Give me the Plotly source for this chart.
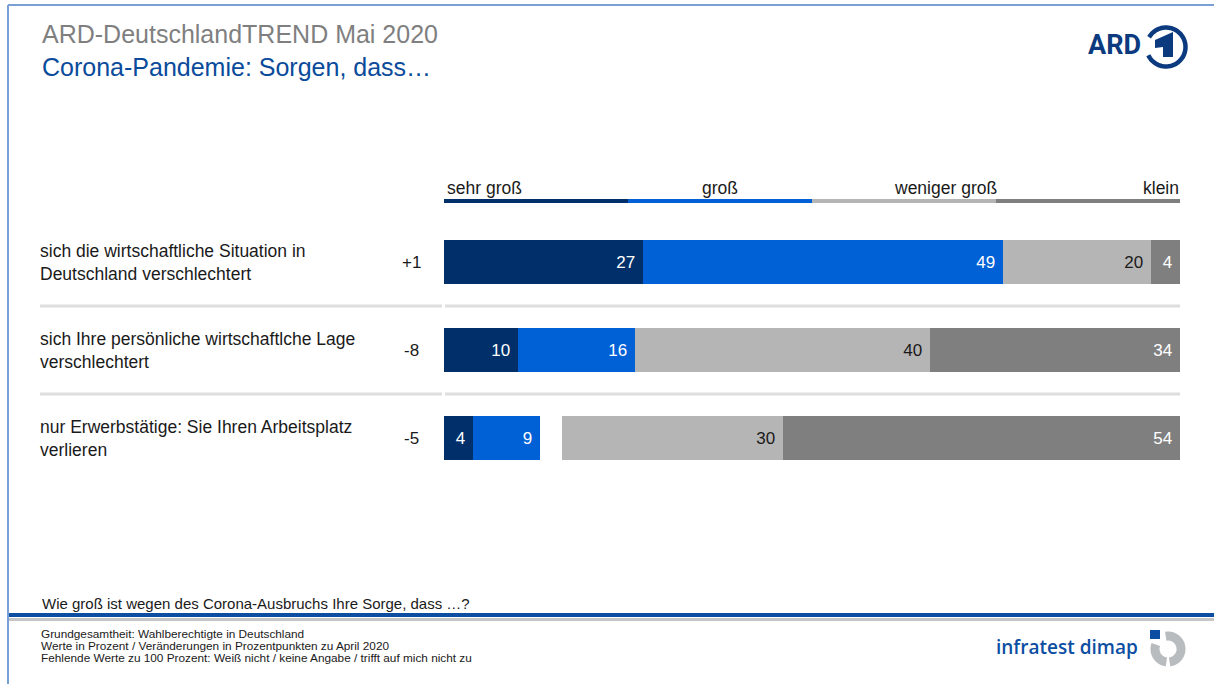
import numpy as np
import plotly.graph_objects as go

# ---------------- data ----------------
categories = [
    "sich die wirtschaftliche Situation in<br>Deutschland verschlechtert",
    "sich Ihre persönliche wirtschaftlche Lage<br>verschlechtert",
    "nur Erwerbstätige: Sie Ihren Arbeitsplatz<br>verlieren",
]
changes = ["+1", "-8", "-5"]
sehr_gross = [27, 10, 4]
gross = [49, 16, 9]
weniger_gross = [20, 40, 30]
klein = [4, 34, 54]
legend_labels = ["sehr groß", "groß", "weniger groß", "klein"]

colors = ["#002f6a", "#0060d6", "#b5b5b5", "#7f7f7f"]
text_colors = ["white", "white", "#1a1a1a", "white"]
FONT = "Liberation Sans, Arial, sans-serif"

W, H = 1214, 684
L, R, T, B = 444, 34, 218, 202
PW, PH = W - L - R, H - T - B


def X(px):
    return (px - L) / PW


def Y(py):
    return (H - B - py) / PH


# ---------------- bars ----------------
left_bases = [[0] * 3, list(sehr_gross)]
right_bases = [[100 - k - w for k, w in zip(klein, weniger_gross)],
               [100 - k for k in klein]]
series = [sehr_gross, gross, weniger_gross, klein]
bases = left_bases + right_bases

fig = go.Figure()
for vals, base, col, tcol, name in zip(series, bases, colors, text_colors, legend_labels):
    fig.add_trace(go.Bar(
        y=categories, x=vals, base=base, orientation="h",
        name=name, width=0.5,
        marker=dict(color=col, line=dict(width=0)),
        text=[f"{v}\u00a0" for v in vals],
        textposition="inside", insidetextanchor="end",
        textfont=dict(color=tcol, size=17, family=FONT),
        hoverinfo="skip", showlegend=False,
    ))

shapes = []
annotations = []

# frame lines
shapes.append(dict(type="line", xref="paper", yref="paper", x0=X(8), x1=X(8), y0=Y(5), y1=Y(H),
                   line=dict(color="#7a9fd6", width=2)))
shapes.append(dict(type="line", xref="paper", yref="paper", x0=X(8), x1=X(W), y0=Y(5), y1=Y(5),
                   line=dict(color="#7a9fd6", width=2)))
# footer lines
shapes.append(dict(type="line", xref="paper", yref="paper", x0=X(9), x1=X(W), y0=Y(615), y1=Y(615),
                   line=dict(color="#0b4ea2", width=4)))
shapes.append(dict(type="line", xref="paper", yref="paper", x0=X(9), x1=X(W), y0=Y(619.5), y1=Y(619.5),
                   line=dict(color="#c4c6c8", width=3)))

# legend line segments
for i, col in enumerate(colors):
    shapes.append(dict(type="line", xref="x", yref="paper", x0=25 * i, x1=25 * (i + 1),
                       y0=Y(201), y1=Y(201), line=dict(color=col, width=4)))
leg_pos = [(0, "left", 1), (37.5, "center", 0), (75, "right", 3), (100, "right", 1)]
for lab, (xv, anc, sh) in zip(legend_labels, leg_pos):
    annotations.append(dict(x=xv, y=Y(188), xref="x", yref="paper", text=lab, showarrow=False,
                            xanchor=anc, yanchor="middle", xshift=sh,
                            font=dict(size=17.5, color="#1a1a1a", family=FONT)))

# separators between rows
for yv in [0.5, 1.5]:
    shapes.append(dict(type="line", xref="paper", yref="y", x0=X(40), x1=X(442), y0=yv, y1=yv,
                       line=dict(color="#dedede", width=3)))
    shapes.append(dict(type="line", xref="paper", yref="y", x0=X(445), x1=X(1180), y0=yv, y1=yv,
                       line=dict(color="#dedede", width=3)))

# row labels and changes
for cat, ch in zip(categories, changes):
    annotations.append(dict(x=X(38), y=cat, xref="paper", yref="y", text=cat, showarrow=False,
                            xanchor="left", yanchor="middle", align="left",
                            font=dict(size=17.5, color="#1a1a1a", family=FONT)))
    annotations.append(dict(x=X(411), y=cat, xref="paper", yref="y", text=ch, showarrow=False,
                            xanchor="center", yanchor="middle",
                            font=dict(size=17, color="#1a1a1a", family=FONT)))

# titles
annotations.append(dict(x=X(40), y=Y(34), xref="paper", yref="paper", text="ARD-DeutschlandTREND Mai 2020",
                        showarrow=False, xanchor="left", yanchor="middle",
                        font=dict(size=25, color="#7f7f7f", family=FONT)))
annotations.append(dict(x=X(40), y=Y(67), xref="paper", yref="paper", text="Corona-Pandemie: Sorgen, dass…",
                        showarrow=False, xanchor="left", yanchor="middle",
                        font=dict(size=25, color="#0a4b9b", family=FONT)))

# question & footer
annotations.append(dict(x=X(40), y=Y(603), xref="paper", yref="paper",
                        text="Wie groß ist wegen des Corona-Ausbruchs Ihre Sorge, dass …?",
                        showarrow=False, xanchor="left", yanchor="middle",
                        font=dict(size=15, color="#1a1a1a", family=FONT)))
footer = ["Grundgesamtheit: Wahlberechtigte in Deutschland",
          "Werte in Prozent / Veränderungen in Prozentpunkten zu April 2020",
          "Fehlende Werte zu 100 Prozent: Weiß nicht / keine Angabe / trifft auf mich nicht zu"]
for i, line in enumerate(footer):
    annotations.append(dict(x=X(40), y=Y(633.5 + 12 * i), xref="paper", yref="paper", text=line,
                            showarrow=False, xanchor="left", yanchor="middle", borderpad=0,
                            font=dict(size=11.8, color="#1a1a1a", family=FONT)))

# ARD logo
navy = "#0b3a7e"
annotations.append(dict(x=X(1143), y=Y(45), xref="paper", yref="paper", text="<b>ARD</b>",
                        showarrow=False, xanchor="right", yanchor="middle",
                        font=dict(size=27, color=navy, family="Roboto, Liberation Sans, sans-serif")))


def arc_path(cx, cy, r, a0, a1, n=60):
    ang = np.radians(np.linspace(a0, a1, n))
    pts = [(X(cx + r * np.cos(a)), Y(cy - r * np.sin(a))) for a in ang]
    return "M " + " L ".join(f"{x:.5f},{y:.5f}" for x, y in pts)


shapes.append(dict(type="path", xref="paper", yref="paper", path=arc_path(1166, 47, 19.5, 150, -155),
                   line=dict(color=navy, width=4.5)))
one = [(1155, 40), (1173, 32), (1173, 57), (1163, 57), (1163, 47), (1155, 48)]
shapes.append(dict(type="path", xref="paper", yref="paper",
                   path="M " + " L ".join(f"{X(a):.5f},{Y(b):.5f}" for a, b in one) + " Z",
                   fillcolor=navy, line=dict(width=0)))

# infratest dimap logo
annotations.append(dict(x=X(1140), y=Y(647), xref="paper", yref="paper", text="infratest dimap",
                        showarrow=False, xanchor="right", yanchor="middle",
                        font=dict(size=19, color="#0b4ea2", family="Open Sans, sans-serif", weight=600)))
shapes.append(dict(type="rect", xref="paper", yref="paper", x0=X(1150), x1=X(1160), y0=Y(630), y1=Y(639),
                   fillcolor="#0b4ea2", line=dict(width=0)))
shapes.append(dict(type="path", xref="paper", yref="paper", path=arc_path(1168, 649, 13, 100, -83),
                   line=dict(color="#b9bcbf", width=9)))
shapes.append(dict(type="path", xref="paper", yref="paper", path=arc_path(1168, 649, 13, -97, -200),
                   line=dict(color="#b9bcbf", width=9)))

fig.update_layout(
    width=W, height=H, autosize=False,
    margin=dict(l=L, r=R, t=T, b=B, pad=0),
    paper_bgcolor="white", plot_bgcolor="white",
    barmode="overlay", bargap=0,
    xaxis=dict(range=[0, 100], visible=False, fixedrange=True),
    yaxis=dict(type="category", categoryarray=categories, range=[2.5, -0.5], visible=False, fixedrange=True),
    shapes=shapes, annotations=annotations,
    font=dict(family=FONT),
)

fig.write_html("out.html", config={"displayModeBar": False})
